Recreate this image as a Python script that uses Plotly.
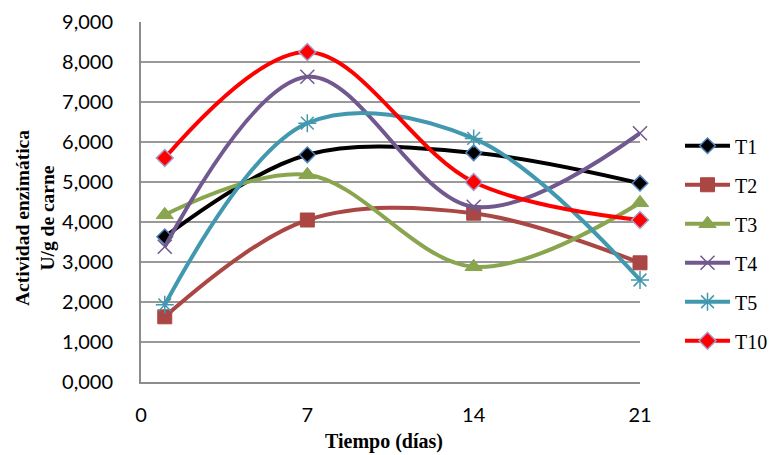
import plotly.graph_objects as go

dias = [1, 7, 14, 21]
T1 = [3630, 5680, 5730, 4970]
T2 = [1630, 4050, 4220, 2980]
T3 = [4180, 5180, 2880, 4480]
T4 = [3380, 7630, 4380, 6220]
T5 = [1930, 6470, 6090, 2550]
T10 = [5600, 8250, 5000, 4050]

y_ticks = [0, 1000, 2000, 3000, 4000, 5000, 6000, 7000, 8000, 9000]
y_ticktext = ["0,000", "1,000", "2,000", "3,000", "4,000", "5,000", "6,000", "7,000", "8,000", "9,000"]
x_ticks = [0, 7, 14, 21]

series = [
    ("T1", T1, "#000000", dict(symbol="diamond", size=12, color="#000000", line=dict(color="#4F81BD", width=1.5))),
    ("T2", T2, "#AA4643", dict(symbol="square", size=14, color="#AA4643", line=dict(color="#AA4643", width=1))),
    ("T3", T3, "#89A54E", dict(symbol="triangle-up", size=15, color="#89A54E", line=dict(color="#89A54E", width=1))),
    ("T4", T4, "#71588F", dict(symbol="x-thin", size=14, color="#71588F", line=dict(color="#71588F", width=1.5))),
    ("T5", T5, "#4198AF", dict(symbol="asterisk", size=15, color="#4198AF", line=dict(color="#4198AF", width=1.5))),
    ("T10", T10, "#FF0000", dict(symbol="diamond", size=13, color="#FF0000", line=dict(color="#A99BC9", width=1.5))),
]

fig = go.Figure()
for name, vals, col, mk in series:
    fig.add_trace(go.Scatter(
        x=dias, y=vals, name=name, legendgroup=name,
        mode="lines+markers",
        line=dict(color=col, width=4, shape="spline", smoothing=1.0),
        marker=mk, cliponaxis=False,
    ))

fig.update_layout(
    width=772, height=455,
    margin=dict(l=141, r=132, t=22, b=73, autoexpand=False),
    paper_bgcolor="white", plot_bgcolor="white",
    showlegend=True,
    legend=dict(xref="container", yref="container", x=680 / 772, xanchor="left",
                y=(455 - 240) / 455, yanchor="middle",
                font=dict(family="Liberation Serif", size=20, color="#000000"),
                tracegroupgap=10, itemwidth=45, bgcolor="rgba(0,0,0,0)"),
    font=dict(family="Lato", size=20, color="#000000"),
    annotations=[
        dict(text="<b>Actividad enzimática<br>U/g de carne</b>", xref="paper", yref="paper",
             x=(35 - 141) / 499, y=(382 - 218) / 360, textangle=-90, showarrow=False,
             font=dict(family="Liberation Serif", size=19.5, color="#000000"),
             xanchor="center", yanchor="middle"),
        dict(text="<b>Tiempo (días)</b>", xref="paper", yref="paper",
             x=(384 - 141) / 499, y=-(441 - 382) / 360, showarrow=False,
             font=dict(family="Liberation Serif", size=20, color="#000000"),
             xanchor="center", yanchor="middle"),
    ],
)

fig.update_xaxes(range=[0, 21], tickvals=x_ticks, showgrid=False, zeroline=False,
                 showline=True, linecolor="#8C8C8C", linewidth=2, ticks="", automargin=False,
                 ticklabelstandoff=14, tickfont=dict(family="Lato", size=20))
fig.update_yaxes(range=[0, 9000], tickvals=y_ticks, ticktext=y_ticktext,
                 showgrid=True, gridcolor="#999999", gridwidth=1.5, zeroline=False,
                 showline=True, linecolor="#8C8C8C", linewidth=2, ticks="", automargin=False,
                 ticklabelstandoff=22, tickfont=dict(family="Lato", size=20))

fig.write_html("out.html", config={"displayModeBar": False},
               post_script="document.body.style.margin='0';document.body.style.overflow='hidden';")
